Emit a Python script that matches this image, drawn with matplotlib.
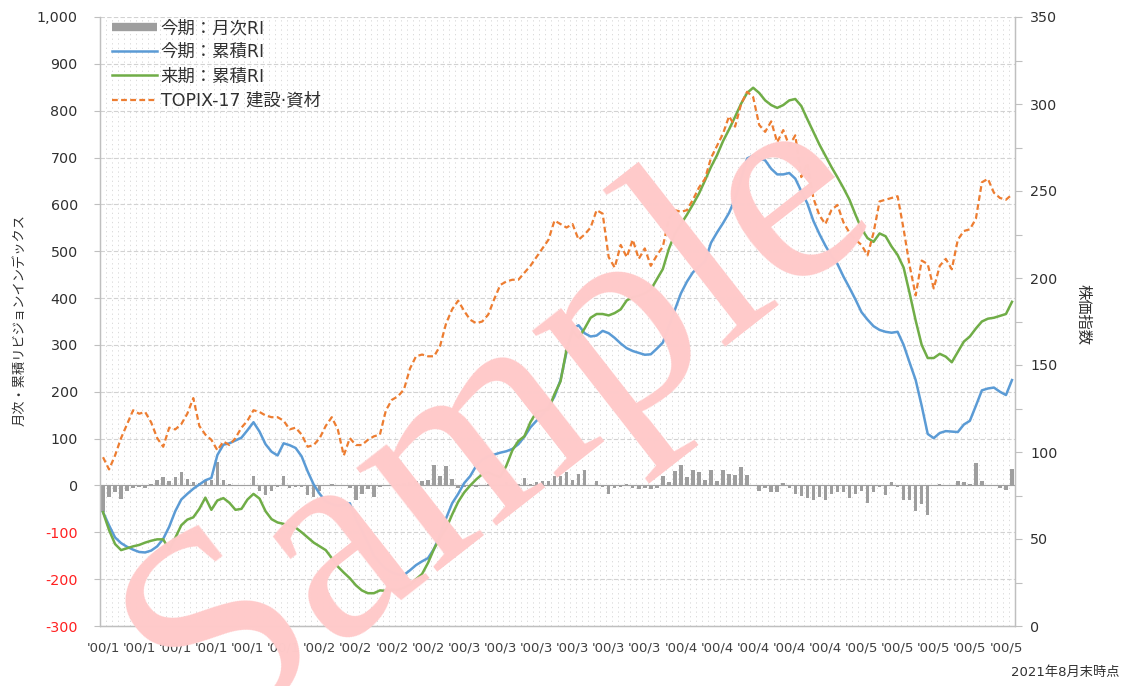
import matplotlib
matplotlib.use('Agg')
import matplotlib.pyplot as plt
import numpy as np
from matplotlib.ticker import FixedLocator, FuncFormatter, MultipleLocator
from matplotlib.lines import Line2D

plt.rcParams['font.family'] = ['DejaVu Sans', 'Noto Sans CJK JP']

# ---------------- data ----------------
monthly_ri = [
    -57, -25, -14, -28, -11, -5, -3, -5, 3, 11,
    18, 9, 18, 28, 14, 7, 5, 12, 12, 50,
    11, 4, 2, 1, 2, 21, -11, -21, -11, -3,
    21, -5, -3, -4, -21, -25, -11, -2, 3, -2,
    2, -5, -30, -18, -8, -25, -3, -2, 2, 3,
    5, 7, 10, 10, 12, 44, 21, 41, 13, -5,
    -3, -2, -3, -2, 3, -2, 2, 7, 3, 3,
    15, 3, 7, 10, 10, 20, 20, 28, 12, 25,
    33, 2, 10, -3, -18, -5, -3, 3, -5, -8,
    -5, -7, -6, 20, 7, 30, 44, 19, 33, 28,
    12, 33, 10, 32, 25, 23, 40, 23, -2, -12,
    -5, -14, -14, 5, -5, -18, -23, -26, -30, -25,
    -31, -18, -14, -14, -26, -18, -12, -38, -14, -3,
    -21, 7, -3, -32, -31, -55, -40, -64, 0, 3,
    -2, 0, 9, 7, 3, 48, 10, 0, 0, -5,
    -10, 36,
]
cum_ri_this = [
    -57, -85, -111, -123, -131, -137, -142, -143, -139, -130,
    -114, -88, -55, -30, -18, -7, 2, 11, 16, 65,
    87, 90, 96, 102, 118, 135, 115, 88, 72, 64,
    90, 86, 80, 62, 30, 2, -18, -34, -40, -43,
    -42, -38, -72, -96, -122, -150, -165, -178, -186, -190,
    -191, -181, -170, -162, -155, -135, -105, -70, -38, -18,
    5, 20, 42, 55, 62, 66, 70, 73, 78, 88,
    104, 124, 138, 152, 168, 190, 225, 285, 335, 342,
    325, 318, 320, 330, 325, 315, 303, 293, 287, 283,
    279, 280, 292, 305, 340, 375, 410, 435, 455, 467,
    478, 518, 540, 560, 582, 612, 655, 698, 704, 698,
    694, 676, 664, 664, 667, 655, 628, 602, 565, 537,
    512, 490, 473, 446, 422, 397, 370, 354, 340, 332,
    328, 326, 328, 300, 262, 225, 170, 110, 101, 112,
    116, 115, 114, 130, 138, 170, 203, 207, 209, 200,
    193, 225,
]
cum_ri_next = [
    -57, -95, -125, -138, -134, -130, -127, -122, -118, -115,
    -115, -137, -112, -85, -73, -68, -50, -26, -52, -32,
    -27, -37, -52, -50, -30, -18, -28, -55, -72, -79,
    -82, -86, -90, -100, -111, -122, -130, -138, -155, -173,
    -186, -198, -213, -224, -230, -230, -224, -225, -222, -223,
    -218, -212, -200, -189, -165, -135, -112, -92, -62, -35,
    -15, 0, 13, 24, 28, 22, 18, 42, 75, 95,
    105, 135, 157, 160, 162, 195, 222, 290, 330, 315,
    335, 358, 366, 366, 363, 368, 376, 395, 402, 405,
    410, 418, 440, 462, 505, 537, 558, 578, 600, 623,
    651, 680, 705, 735, 760, 787, 815, 838, 849, 838,
    822, 812, 806, 812, 822, 825, 810, 782, 755, 728,
    704, 680, 658, 635, 610, 578, 548, 528, 520, 538,
    532, 510, 492, 465, 410, 352, 300, 272, 272, 281,
    275, 263, 285, 307, 318, 335, 350, 356, 358, 362,
    366, 392,
]
topix = [
    97, 90, 98, 108, 116, 124, 122, 123, 117, 108,
    103, 114, 113, 116, 122, 131, 115, 110, 107, 101,
    106, 104, 108, 114, 118, 124, 123, 121, 120, 120,
    118, 113, 114, 110, 103, 104, 108, 115, 120, 113,
    98, 108, 104, 104, 107, 109, 110, 124, 130, 132,
    136, 148, 155, 156, 155, 155, 161, 174, 182, 187,
    181, 176, 174, 175, 179, 188, 196, 198, 199, 199,
    203, 207, 212, 217, 222, 233, 231, 229, 231, 222,
    225, 229, 239, 237, 212, 206, 219, 212, 222, 211,
    217, 207, 213, 218, 234, 239, 238, 239, 245, 252,
    257, 269, 276, 283, 293, 287, 300, 307, 304, 288,
    284, 290, 278, 285, 276, 282, 258, 266, 246, 236,
    231, 239, 242, 232, 226, 222, 219, 213, 226, 244,
    245, 246, 247, 228, 207, 190, 210, 208, 194, 207,
    211, 205, 222, 227, 228, 234, 255, 257, 249, 246,
    245, 248,
]
tick_labels = (["'00/1"] * 6 + ["'00/2"] * 4 + ["'00/3"] * 6
               + ["'00/4"] * 5 + ["'00/5"] * 5)
label_step = 6

legend_labels = ["今期：月次RI", "今期：累積RI", "来期：累積RI", "TOPIX-17 建設·資材"]

# ---------------- figure ----------------
W, H = 1126, 686
fig = plt.figure(figsize=(W / 100, H / 100), dpi=100)
ax = fig.add_axes([100 / W, 1 - 626 / H, 915 / W, 609 / H])
ax2 = ax.twinx()

n = len(monthly_ri)
x = np.arange(n)

grey = '#9e9e9e'
blue = '#5B9BD5'
green = '#70AD47'
orange = '#ED7D31'

ax.set_xlim(-0.5, n - 0.5)
ax.set_ylim(-300, 1000)
ax2.set_ylim(0, 350)

# grid
ax.set_axisbelow(True)
for v in range(-300, 1001, 100):
    ax.axhline(v, color='#d2d2d2', lw=0.8, ls=(0, (4, 2)), zorder=0)
ax.xaxis.set_minor_locator(FixedLocator(np.arange(-0.5, n, 1)))
ax.grid(which='minor', axis='x', color='#d4d4d4', lw=0.6, ls=(0, (1.5, 4)))

ax.bar(x, monthly_ri, width=0.58, color=grey, zorder=2)
ax.axhline(0, color='#a0a0a0', lw=0.8, zorder=2)
ax.plot(x, cum_ri_this, color=blue, lw=1.8, zorder=3)
ax.plot(x, cum_ri_next, color=green, lw=1.8, zorder=3)
ax2.plot(x, topix, color=orange, lw=1.6, ls=(0, (2.6, 1.5)), zorder=3)

# x ticks
ax.set_xticks(x[::label_step][:len(tick_labels)])
ax.set_xticklabels(tick_labels, fontsize=9.5, color='#404040')
ax.tick_params(axis='x', which='both', length=0, pad=11)

# left y ticks
yt = list(range(-300, 1001, 100))
ax.yaxis.set_major_locator(FixedLocator(yt))
ax.yaxis.set_major_formatter(FuncFormatter(lambda v, p: f"{int(v):,}"))
ax.tick_params(axis='y', length=4, width=0.8, color='#bfbfbf', labelsize=10.3, pad=12)
for t, v in zip(ax.get_yticklabels(), yt):
    t.set_color('#ff2020' if v < 0 else '#303030')

# right y ticks
ax2.yaxis.set_major_locator(MultipleLocator(50))
ax2.yaxis.set_minor_locator(MultipleLocator(25))
ax2.tick_params(axis='y', which='major', length=5, width=0.8, color='#bfbfbf',
                labelsize=10.3, labelcolor='#303030', pad=6)
ax2.tick_params(axis='y', which='minor', length=5, width=0.8, color='#bfbfbf')

for a in (ax, ax2):
    for s in ('left', 'right', 'bottom'):
        a.spines[s].set_color('#bfbfbf')
        a.spines[s].set_linewidth(0.9)
    a.spines['top'].set_visible(False)

# axis titles
fig.text(20 / W, 1 - 320 / H, "月次・累積リビジョンインデックス", rotation=90,
         ha='center', va='center', fontsize=9.5, color='#303030')
fig.text(1083 / W, 1 - 315 / H, "株価指数", rotation=270,
         ha='center', va='center', fontsize=11, color='#303030')
fig.text(1120 / W, 1 - 672 / H, "2021年8月末時点", ha='right', va='center',
         fontsize=9.5, color='#303030')

# legend
handles = [
    Line2D([0], [0], color=grey, lw=6, solid_capstyle='butt'),
    Line2D([0], [0], color=blue, lw=1.8),
    Line2D([0], [0], color=green, lw=1.8),
    Line2D([0], [0], color=orange, lw=1.6, ls=(0, (2.6, 1.5))),
]
leg = ax2.legend(handles, legend_labels, loc='upper left',
                 bbox_to_anchor=(112 / W, 1 - 19 / H), bbox_transform=fig.transFigure,
                 frameon=False, fontsize=12.5, handlelength=2.6, handletextpad=0.2,
                 labelspacing=0.36, borderpad=0, borderaxespad=0)
for t in leg.get_texts():
    t.set_color('#303030')

# watermark
fig.text(500 / W, 1 - 420 / H, "Sample", rotation=38, fontsize=206,
         family='Liberation Serif', color='#ffcaca', ha='center', va='center',
         zorder=10)

fig.savefig('out.png', dpi=100)
